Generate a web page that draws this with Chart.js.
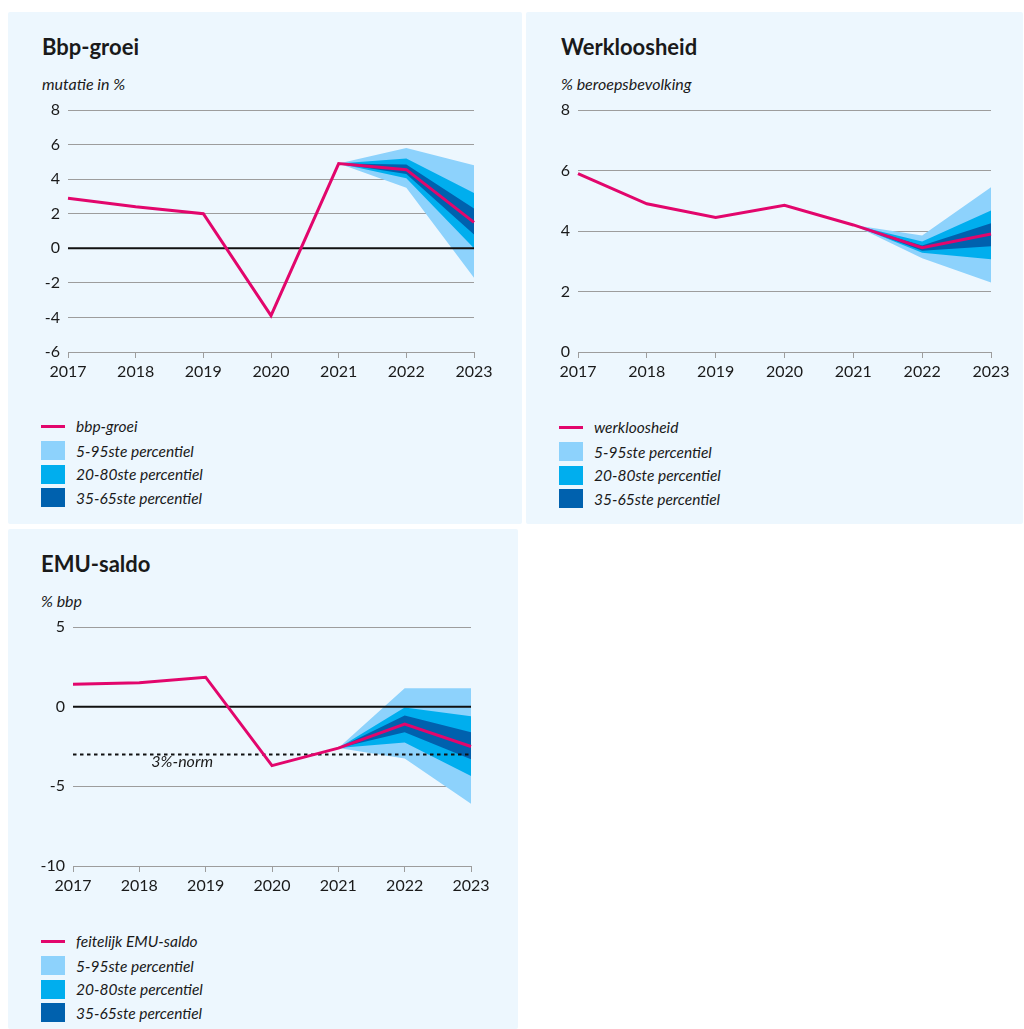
<!DOCTYPE html>
<html>
<head>
<meta charset="utf-8">
<script src="https://cdn.jsdelivr.net/npm/chart.js@4.4.1/dist/chart.umd.min.js"></script>
<style>
  html, body { margin: 0; padding: 0; background: #fff; }
  body { width: 1024px; height: 1029px; position: relative; overflow: hidden; font-family: Lato, "Noto Sans", sans-serif; color: #1a1a1a; }
  .panel { position: absolute; background: #edf7fe; border-radius: 2px; }
  .panel canvas { position: absolute; left: 0; }
  .title { position: absolute; font-size: 22px; font-weight: 700; line-height: 1; white-space: nowrap; }
  .sub { position: absolute; font-size: 16px; font-style: italic; line-height: 1; white-space: nowrap; }
  .row { position: absolute; height: 22px; display: flex; align-items: center; font-size: 15.5px; font-style: italic; white-space: nowrap; }
  .row .mk { width: 24px; height: 19px; margin-right: 11px; }
  .row .ln { width: 24px; height: 3px; margin-right: 11px; }
</style>
</head>
<body>

<div class="panel" id="p1" style="left:8px; top:12px; width:514px; height:512px;">
  <div class="title" style="left:34px; top:24px;">Bbp-groei</div>
  <div class="sub" style="left:34px; top:64px;">mutatie in %</div>
  <canvas id="c1" width="514" height="310" style="top:80px;"></canvas>
  <div id="l1"></div>
</div>

<div class="panel" id="p2" style="left:526px; top:12px; width:497px; height:512px;">
  <div class="title" style="left:35px; top:24px;">Werkloosheid</div>
  <div class="sub" style="left:35px; top:64px;">% beroepsbevolking</div>
  <canvas id="c2" width="497" height="310" style="top:80px;"></canvas>
  <div id="l2"></div>
</div>

<div class="panel" id="p3" style="left:8px; top:529px; width:510px; height:500px;">
  <div class="title" style="left:33px; top:24px;">EMU-saldo</div>
  <div class="sub" style="left:33px; top:64px;">% bbp</div>
  <canvas id="c3" width="510" height="307" style="top:80px;"></canvas>
  <div id="l3"></div>
</div>

<script>
// data
const years = ['2017', '2018', '2019', '2020', '2021', '2022', '2023'];

const bbp    = [2.9, 2.4, 2.0, -3.9, 4.9, 4.55, 1.5];
const bbpP5  = [null, null, null, null, 4.9, 3.5, -1.7];
const bbpP20 = [null, null, null, null, 4.9, 4.05, 0.0];
const bbpP35 = [null, null, null, null, 4.9, 4.3, 0.8];
const bbpP65 = [null, null, null, null, 4.9, 4.85, 2.3];
const bbpP80 = [null, null, null, null, 4.9, 5.2, 3.2];
const bbpP95 = [null, null, null, null, 4.9, 5.8, 4.8];
const bbpTicks = { min: -6, max: 8, step: 2 };

const werk    = [5.9, 4.9, 4.45, 4.85, 4.2, 3.45, 3.9];
const werkP5  = [null, null, null, null, 4.2, 3.1, 2.3];
const werkP20 = [null, null, null, null, 4.2, 3.28, 3.07];
const werkP35 = [null, null, null, null, 4.2, 3.35, 3.5];
const werkP65 = [null, null, null, null, 4.2, 3.52, 4.26];
const werkP80 = [null, null, null, null, 4.2, 3.65, 4.68];
const werkP95 = [null, null, null, null, 4.2, 3.85, 5.45];
const werkTicks = { min: 0, max: 8, step: 2 };

const emu    = [1.4, 1.5, 1.85, -3.7, -2.6, -1.1, -2.5];
const emuP5  = [null, null, null, null, -2.6, -3.25, -6.1];
const emuP20 = [null, null, null, null, -2.6, -2.25, -4.35];
const emuP35 = [null, null, null, null, -2.6, -1.6, -3.3];
const emuP65 = [null, null, null, null, -2.6, -0.55, -1.6];
const emuP80 = [null, null, null, null, -2.6, -0.05, -0.6];
const emuP95 = [null, null, null, null, -2.6, 1.15, 1.15];
const emuTicks = { min: -10, max: 5, step: 5 };
const emuNorm = -3;

const bandNames = ['5-95ste percentiel', '20-80ste percentiel', '35-65ste percentiel'];

const MAGENTA = '#e2066c';
const LIGHT = '#8dd2fc';
const MID = '#00aeee';
const DARK = '#0061ae';
const GRID = '#9d9d9d';
const FONT = 'Lato, "Noto Sans", sans-serif';

function flat(v) { return years.map(() => v); }

function band(upper, lower, color, order) {
  return [
    { data: upper, fill: '+1', backgroundColor: color, borderWidth: 0, pointRadius: 0, order: order },
    { data: lower, fill: false, borderWidth: 0, pointRadius: 0, order: order }
  ];
}

const normLabel = {
  id: 'normLabel',
  afterDatasetsDraw(chart, args, opts) {
    if (!opts.text) return;
    const ctx = chart.ctx;
    const x = chart.scales.x.getPixelForValue(1) + 12;
    const y = chart.scales.y.getPixelForValue(opts.value) + 13;
    ctx.save();
    ctx.font = 'italic 16px ' + FONT;
    ctx.fillStyle = '#1a1a1a';
    ctx.textBaseline = 'alphabetic';
    ctx.fillText(opts.text, x, y);
    ctx.restore();
  }
};

function makeChart(id, cfg) {
  const datasets = [
    { data: cfg.values, borderColor: MAGENTA, borderWidth: 3, pointRadius: 0, fill: false, order: 0 }
  ];
  if (cfg.zero) datasets.push({ data: flat(0), borderColor: '#111', borderWidth: 2, pointRadius: 0, fill: false, order: 1 });
  if (cfg.norm !== undefined) datasets.push({ data: flat(cfg.norm), borderColor: '#111', borderWidth: 2, borderDash: [3.5, 3.5], pointRadius: 0, fill: false, order: 1 });
  datasets.push(...band(cfg.p65, cfg.p35, DARK, 2));
  datasets.push(...band(cfg.p80, cfg.p20, MID, 3));
  datasets.push(...band(cfg.p95, cfg.p5, LIGHT, 4));

  new Chart(document.getElementById(id), {
    type: 'line',
    data: { labels: years, datasets: datasets },
    plugins: [normLabel],
    options: {
      responsive: false,
      animation: false,
      events: [],
      layout: { padding: { top: 18, right: cfg.padRight, left: 0, bottom: 0 } },
      elements: { line: { tension: 0 } },
      plugins: {
        legend: { display: false },
        tooltip: { enabled: false },
        normLabel: { text: cfg.normText, value: cfg.norm }
      },
      scales: {
        x: {
          offset: false,
          grid: { drawOnChartArea: false, drawTicks: true, tickLength: 6, color: GRID, lineWidth: 1 },
          border: { display: true, color: GRID, width: 1 },
          ticks: { color: '#1a1a1a', font: { family: FONT, size: 16 }, padding: 4, maxRotation: 0 },
          afterFit: s => { s.height = 50; }
        },
        y: {
          min: cfg.ticks.min,
          max: cfg.ticks.max,
          grid: { drawTicks: false, color: GRID, lineWidth: 1 },
          border: { display: false },
          ticks: { stepSize: cfg.ticks.step, color: '#1a1a1a', font: { family: FONT, size: 16 }, padding: 8 },
          afterFit: s => { s.width = cfg.yWidth; }
        }
      }
    }
  });
}

function makeLegend(id, lineName, top) {
  const el = document.getElementById(id);
  const rows = [{ name: lineName, line: true }].concat(
    bandNames.map((n, i) => ({ name: n, color: [LIGHT, MID, DARK][i] })));
  const tops = [top, top + 15, top + 38.5, top + 62];
  rows.forEach((r, i) => {
    const row = document.createElement('div');
    row.className = 'row';
    row.style.left = '33px';
    row.style.top = (tops[i] + (i === 0 ? 0 : 9.5) - 11) + 'px';
    const mk = document.createElement('span');
    mk.className = r.line ? 'ln' : 'mk';
    mk.style.background = r.line ? MAGENTA : r.color;
    row.appendChild(mk);
    row.appendChild(document.createTextNode(r.name));
    el.appendChild(row);
  });
}

makeChart('c1', { values: bbp, p5: bbpP5, p20: bbpP20, p35: bbpP35, p65: bbpP65, p80: bbpP80, p95: bbpP95,
  ticks: bbpTicks, zero: true, yWidth: 60, padRight: 48 });
makeChart('c2', { values: werk, p5: werkP5, p20: werkP20, p35: werkP35, p65: werkP65, p80: werkP80, p95: werkP95,
  ticks: werkTicks, zero: false, yWidth: 52, padRight: 32 });
makeChart('c3', { values: emu, p5: emuP5, p20: emuP20, p35: emuP35, p65: emuP65, p80: emuP80, p95: emuP95,
  ticks: emuTicks, zero: true, norm: emuNorm, normText: '3%-norm', yWidth: 65, padRight: 47 });

makeLegend('l1', 'bbp-groei', 414);
makeLegend('l2', 'werkloosheid', 415);
makeLegend('l3', 'feitelijk EMU-saldo', 412);
</script>
</body>
</html>
